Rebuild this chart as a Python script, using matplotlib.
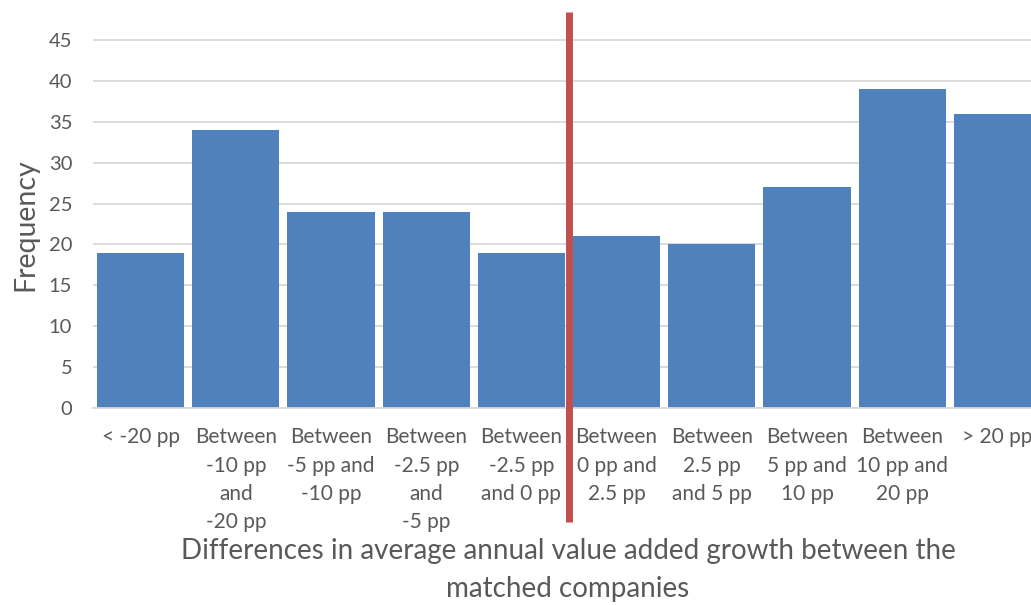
import matplotlib
matplotlib.use("Agg")
import matplotlib.pyplot as plt

categories = ["< -20 pp", "Between\n-10 pp\nand\n-20 pp", "Between\n-5 pp and\n-10 pp",
              "Between\n-2.5 pp\nand\n-5 pp", "Between\n-2.5 pp\nand 0 pp", "Between\n0 pp and\n2.5 pp",
              "Between\n2.5 pp\nand 5 pp", "Between\n5 pp and\n10 pp", "Between\n10 pp and\n20 pp",
              "> 20 pp"]
frequency = [19, 34, 24, 24, 19, 21, 20, 27, 39, 36]
yticks = [0, 5, 10, 15, 20, 25, 30, 35, 40, 45]
divider_position = 4.5

plt.rcParams['font.family'] = ['Lato', 'DejaVu Sans']
text_color = "#595959"

fig = plt.figure(figsize=(10.31, 6.05), dpi=100)
ax = fig.add_axes([93/1031, 197/605, 952/1031, 408/605])

x = list(range(len(categories)))
ax.bar(x, frequency, width=0.915, color="#4F81BD", zorder=2)
ax.set_xlim(-0.5, len(categories) - 0.5)
ax.set_ylim(0, 49.9)
ax.set_yticks(yticks)
ax.set_xticks(x)
ax.set_xticklabels(categories, fontsize=15, color=text_color, linespacing=1.51, va="top")
ax.tick_params(axis="y", labelsize=14.5, colors=text_color, length=0, pad=15)
ax.tick_params(axis="x", length=0, pad=14)
for lbl in ax.get_yticklabels():
    lbl.set_color(text_color)
ax.grid(axis="y", color="#D9D9D9", linewidth=1.3, zorder=0)
for s in ["top", "right", "left"]:
    ax.spines[s].set_visible(False)
ax.spines["bottom"].set_color("#D9D9D9")
ax.spines["bottom"].set_linewidth(1.3)

ax.plot([divider_position, divider_position], [-13.9, 48.4], color="#C0504D", linewidth=5,
        clip_on=False, zorder=3, solid_capstyle="butt")

fig.text(25/1031, 1 - 225/605, "Frequency", rotation=90, fontsize=20.5, color=text_color,
         ha="center", va="center")
fig.text(568/1031, 1 - 570/605,
         "Differences in average annual value added growth between the\nmatched companies",
         fontsize=20, color=text_color, ha="center", va="center", linespacing=1.58,
         multialignment="center")

fig.savefig("out.png", dpi=100)
